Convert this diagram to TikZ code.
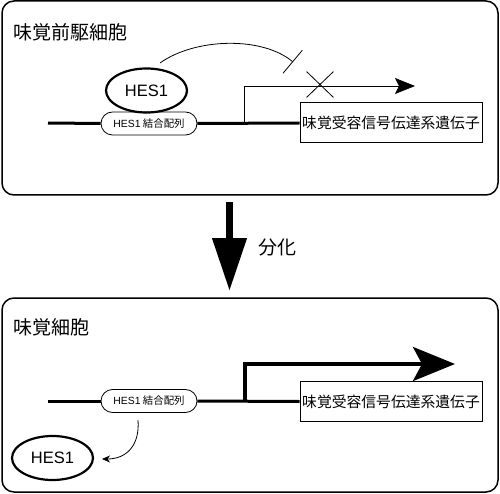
\documentclass[tikz,border=0pt]{standalone}
\usepackage{fontspec}
\setmainfont{Noto Sans CJK JP}
\newfontfamily\latinfont{Liberation Sans}
\usetikzlibrary{arrows.meta,shapes.geometric,shapes.misc}
\begin{document}
\begin{tikzpicture}[x=1pt,y=-1pt,
  panel/.style={draw, line width=1.5pt, rounded corners=12pt, minimum width=496pt, minimum height=194pt, inner sep=0pt},
  titletext/.style={font=\fontsize{19}{19}\selectfont, anchor=west, inner sep=0pt},
  dna/.style={line width=3pt},
  pill/.style={draw, line width=0.8pt, rounded rectangle, minimum width=96pt, minimum height=23pt, inner sep=0pt, font=\fontsize{10.4}{10.4}\selectfont, fill=white},
  hes/.style={draw, ellipse, line width=2.2pt, minimum width=81pt, minimum height=44pt, inner sep=0pt, font=\latinfont\fontsize{16.5}{16.5}\selectfont},
  gene/.style={draw, line width=1pt, minimum width=182pt, minimum height=40pt, inner sep=0pt, font=\fontsize{14.8}{14.8}\selectfont, fill=white},
  thinline/.style={line width=0.8pt}
]
\useasboundingbox (0,0) rectangle (500,494);

% ---------- top panel ----------
\node[panel] (ptop) at (250,98) {};
\node[titletext] (ttop) at (13,32) {味覚前駆細胞};
\coordinate (dnaL1) at (48,123);
\node[pill] (pill1) at (149,123.5) {{\latinfont HES1} 結合配列};
\node[gene] (gene1) at (391,123) {味覚受容信号伝達系遺伝子};
\node[hes] (hes1) at (146.5,90.5) {HES1};
\draw[dna] (dnaL1) -- (pill1.west);
\draw[dna] (pill1.east) -- (gene1.west);
\coordinate (prom1) at (244,123);
\coordinate (tip1) at (415,86);
\draw[thinline, -{Stealth[length=20pt,width=16pt,inset=4pt]}] (prom1) |- (tip1);
\node[draw, cross out, thinline, minimum width=26pt, minimum height=25pt, inner sep=0pt] (xmark) at (320,84.5) {};
\coordinate (inhS) at (160,63);
\coordinate (inhE) at (293,62);
\draw[thinline, -{Bar[width=30pt]}] (inhS) .. controls (195,38) and (262,36) .. (inhE);

% ---------- differentiation arrow ----------
\coordinate (dA) at (229.5,202);
\coordinate (dB) at (229.5,291);
\draw[line width=7.5pt, -{Triangle[length=53pt,width=33pt]}] (dA) -- (dB);
\node[font=\fontsize{19}{19}\selectfont, anchor=west, inner sep=0pt] (bunka) at (258,247) {分化};

% ---------- bottom panel ----------
\node[panel] (pbot) at (250,395) {};
\node[titletext] (tbot) at (13,327) {味覚細胞};
\coordinate (dnaL2) at (48,401);
\node[pill] (pill2) at (149,401) {{\latinfont HES1} 結合配列};
\node[gene] (gene2) at (391,401.5) {味覚受容信号伝達系遺伝子};
\draw[dna] (dnaL2) -- (pill2.west);
\draw[dna] (pill2.east) -- (gene2.west);
\coordinate (prom2) at (245,401);
\coordinate (tip2) at (455,364);
\draw[line width=4pt, -{Stealth[length=42pt,width=34pt,inset=9pt]}] (prom2) |- (tip2);
\node[hes] (hes2) at (52.5,458) {HES1};
\coordinate (relS) at (138,420);
\coordinate (relE) at (102,459);
\draw[thinline, -{Stealth[length=8pt,width=7pt,inset=2.5pt]}] (relS) .. controls (140,446) and (126,459) .. (relE);
\end{tikzpicture}
\end{document}
